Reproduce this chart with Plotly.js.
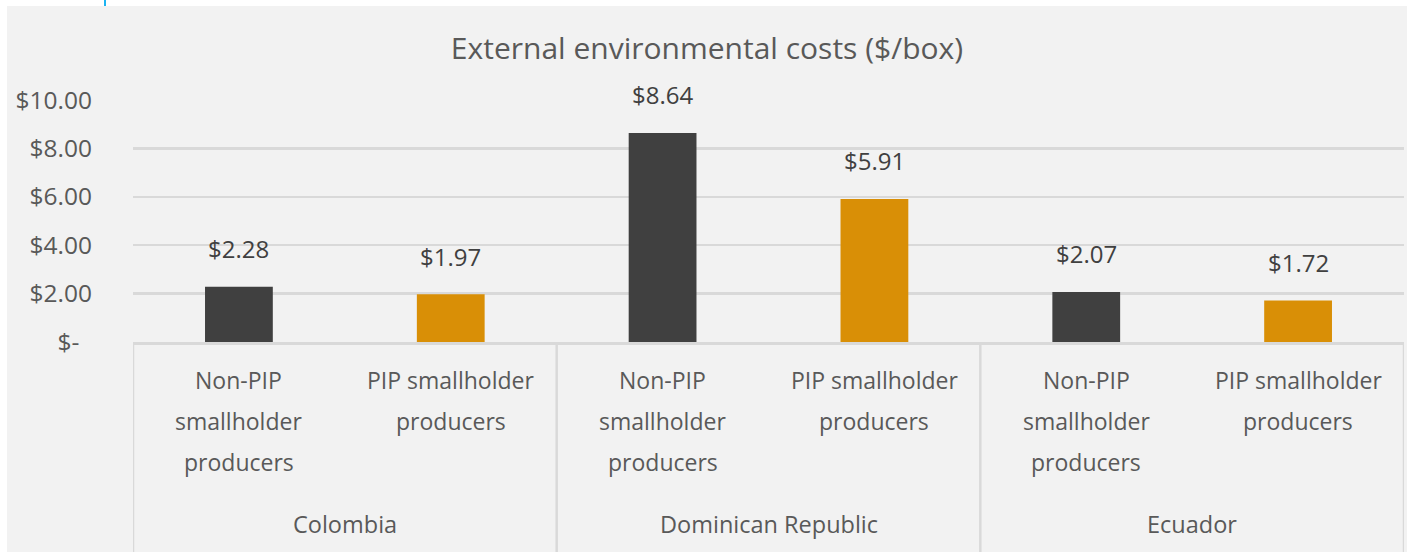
<!DOCTYPE html>
<html>
<head>
<meta charset="utf-8">
<script src="https://cdn.plot.ly/plotly-3.0.1.min.js"></script>
<style>
  html, body { margin: 0; padding: 0; background: #ffffff; width: 1407px; height: 552px; overflow: hidden; }
  #chart { position: absolute; left: 7px; top: 6px; width: 1400px; height: 546px; }
  #mark { position: absolute; left: 104px; top: 0; width: 2px; height: 6px; background: #1cb4f2; }
</style>
</head>
<body>
<div id="mark"></div>
<div id="chart"></div>
<script>
const countries = ["Colombia", "Dominican Republic", "Ecuador"];
const groups = ["Non-PIP smallholder producers", "PIP smallholder producers"];
const groupLines = [["Non-PIP", "smallholder", "producers"], ["PIP smallholder", "producers"]];
const nonPipValues = [2.28, 8.64, 2.07];
const pipValues = [1.97, 5.91, 1.72];
const yTickVals = [0, 2, 4, 6, 8, 10];
const yTickText = ["$-\u00a0\u00a0", "$2.00", "$4.00", "$6.00", "$8.00", "$10.00"];
const titleText = "External environmental costs ($/box)";

const FONT = "Open Sans, sans-serif";
const catId = (c, g) => c + " | " + g;
const allCats = [];
countries.forEach(c => groups.forEach(g => allCats.push(catId(c, g))));

const xNon = countries.map(c => catId(c, groups[0]));
const xPip = countries.map(c => catId(c, groups[1]));
const fmt = v => "$" + v.toFixed(2);

const traces = [
  { type: "bar", x: xNon, y: nonPipValues, name: groups[0], width: 0.32,
    marker: { color: "#404040" }, hoverinfo: "y" },
  { type: "bar", x: xPip, y: pipValues, name: groups[1], width: 0.32,
    marker: { color: "#D98F06" }, hoverinfo: "y" }
];

const annotations = [];
// value labels
[[xNon, nonPipValues], [xPip, pipValues]].forEach(([xs, vs]) => {
  xs.forEach((x, i) => annotations.push({
    x: x, y: vs[i], xref: "x", yref: "y", text: fmt(vs[i]), showarrow: false,
    yanchor: "middle", yshift: 38, font: { family: FONT, size: 24, color: "#404040" }
  }));
});
// category labels (one line per annotation for Excel-like spacing)
const lineShifts = [-38, -79, -120];
countries.forEach(c => groups.forEach((g, gi) => {
  groupLines[gi].forEach((ln, li) => annotations.push({
    x: catId(c, g), y: 0, xref: "x", yref: "paper", text: ln, showarrow: false,
    yanchor: "middle", yshift: lineShifts[li], font: { family: FONT, size: 23, color: "#595959" }
  }));
}));
// country labels
countries.forEach((c, ci) => {
  annotations.push({
    x: ci * 2 + 0.5, y: 0, xref: "x", yref: "paper", text: c, showarrow: false,
    yanchor: "middle", yshift: -182, font: { family: FONT, size: 23.5, color: "#595959" }
  });
});

const shapes = [];
[-0.5, 1.5, 3.5, 5.5].forEach(xv => shapes.push({
  type: "line", xref: "x", yref: "paper", x0: xv, x1: xv, y0: 0, y1: -1.0,
  line: { color: "#d9d9d9", width: 2.5 }
}));

const layout = {
  width: 1400, height: 546,
  margin: { l: 126, r: 3, t: 94, b: 210 },
  paper_bgcolor: "#f2f2f2", plot_bgcolor: "#f2f2f2",
  showlegend: false,
  barmode: "overlay",
  title: { text: titleText, x: 0.5, xanchor: "center", xref: "container", y: 0.923, yanchor: "middle",
           font: { family: FONT, size: 30, color: "#595959" } },
  xaxis: { type: "category", categoryorder: "array", categoryarray: allCats,
           range: [-0.5, 5.5], showticklabels: false, ticks: "", showgrid: false,
           zeroline: false, showline: true, linecolor: "#d9d9d9", linewidth: 2.5, fixedrange: true },
  yaxis: { range: [0, 10], tickvals: yTickVals, ticktext: yTickText, showgrid: true,
           gridcolor: "#d9d9d9", gridwidth: 2.5, zeroline: false, showline: false, ticks: "",
           ticklabelstandoff: 40,
           tickfont: { family: FONT, size: 24.5, color: "#595959" }, fixedrange: true },
  annotations: annotations,
  shapes: shapes
};

Plotly.newPlot("chart", traces, layout, { displayModeBar: false, staticPlot: true });
</script>
</body>
</html>
